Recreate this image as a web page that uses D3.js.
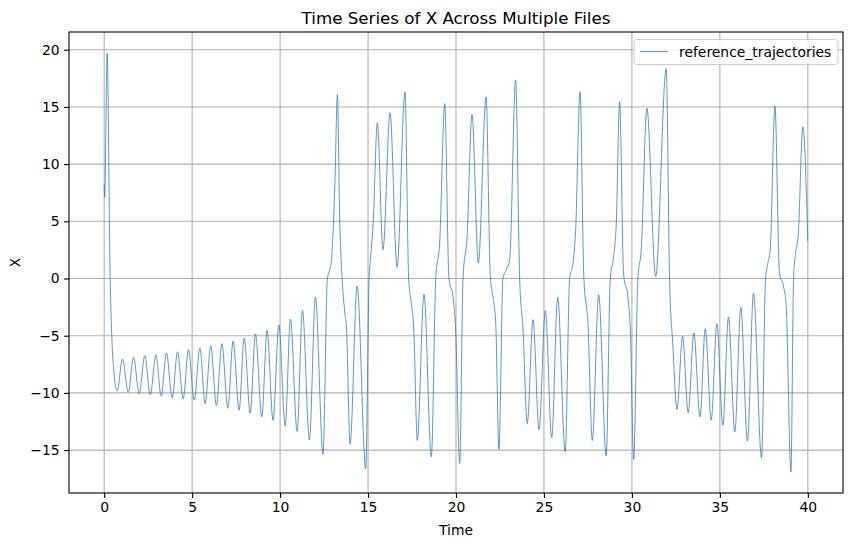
<!DOCTYPE html>
<html lang="en">
<head>
    <meta charset="UTF-8">
    <title>Time Series of X</title>
    <script src="https://cdn.jsdelivr.net/npm/d3@7/dist/d3.min.js"></script>
    <style>
        *{
            padding: 0;
            margin: 0;
        }
        body{
            background: #fff;
        }
        svg{
            font-family: "DejaVu Sans", sans-serif;
        }
    </style>
</head>
<body>
<script>
    // values (time, x) at peaks, troughs and shoulders
    let times = [
        0.00, 0.03, 0.17, 0.34, 0.42, 0.51, 0.74,
        1.04, 1.37, 1.67, 1.99, 2.31, 2.62, 2.94, 3.24, 3.54, 3.87, 4.17, 4.49,
        4.79, 5.12, 5.44, 5.74, 6.06, 6.38, 6.69, 7.03, 7.33, 7.67, 7.96, 8.30,
        8.60, 8.96, 9.26, 9.60, 9.93, 10.29, 10.59, 10.97, 11.27, 11.67, 12.01, 12.44,
        12.69, 12.82, 12.92, 13.11, 13.26, 13.39, 13.51, 13.68, 13.77, 13.98,
        14.38, 14.87, 15.06, 15.13, 15.29, 15.53, 15.85, 16.25, 16.65, 17.10,
        17.31, 17.46, 17.60, 17.80, 18.18, 18.60, 18.85, 19.07, 19.36, 19.60,
        19.83, 19.98, 20.21, 20.40, 20.63, 20.91, 21.27, 21.71, 21.95, 22.10,
        22.26, 22.44, 22.67, 22.86, 23.05, 23.39, 23.62, 23.81, 24.05, 24.38,
        24.72, 25.08, 25.44, 25.78, 26.21, 26.46, 26.65, 26.80, 27.05, 27.27,
        27.50, 27.75, 28.11, 28.54, 28.77, 28.96, 29.11, 29.30, 29.53, 29.77,
        29.91, 30.10, 30.34, 30.53, 30.85, 31.35, 31.95, 32.14, 32.33, 32.56,
        32.88, 33.20, 33.52, 33.87, 34.17, 34.51, 34.83, 35.17, 35.49, 35.85,
        36.19, 36.57, 36.91, 37.37, 37.60, 37.73, 37.86, 38.13, 38.39, 38.62,
        38.77, 39.04, 39.19, 39.30, 39.45, 39.72, 40.00
    ];
    let xValues = [
        8.2, 7.1, 19.7, 0.0, -4.5, -7.4, -9.80,
        -7.03, -9.94, -6.89, -10.06, -6.74, -10.17, -6.66, -10.29, -6.51, -10.44, -6.40, -10.52,
        -6.22, -10.64, -6.08, -10.93, -5.87, -11.10, -5.70, -11.34, -5.47, -11.51, -5.20, -11.77,
        -4.85, -12.09, -4.51, -12.38, -4.07, -12.88, -3.55, -13.37, -2.79, -14.13, -1.63, -15.35,
        0.0, 0.76, 1.6, 8.0, 16.08, 5.0, 0.47, -3.0, -4.2, -14.5,
        -0.64, -16.63, 0.0, 1.6, 4.8, 13.63, 2.5, 14.5, 0.99, 16.3,
        0.0, -2.15, -4.5, -14.16, -1.37, -15.58, 0.0, 3.1, 15.29, 0.0,
        -1.6, -4.5, -16.16, 0.0, 3.7, 14.33, 1.34, 15.87, 0.2, -1.6,
        -3.9, -14.94, 0.0, 0.76, 1.63, 17.33, 0.0, -4.5, -12.70, -3.6,
        -13.2, -2.82, -13.92, -1.66, -15.15, 0.0, 1.34, 4.2, 16.34, 0.0,
        -3.9, -14.16, -1.42, -15.52, 0.0, 1.9, 4.8, 15.44, 0.3, -1.6,
        -4.5, -15.81, 0.0, 2.5, 14.88, 0.17, 18.34, 0.0, -5.9, -11.45,
        -5.06, -11.74, -4.77, -12.09, -4.39, -12.38, -3.95, -12.85, -3.37, -13.40,
        -2.53, -14.22, -1.28, -15.67, 0.0, 1.34, 2.5, 15.06, 0.47, -0.7,
        -2.4, -16.92, 0.0, 2.2, 3.7, 13.26, 3.23
    ];
    let xTicks = [0, 5, 10, 15, 20, 25, 30, 35, 40];
    let yTicks = [-15, -10, -5, 0, 5, 10, 15, 20];
    let seriesName = "reference_trajectories";
    let chartTitle = "Time Series of X Across Multiple Files";

    let W = 853, H = 547;
    let padL = 69, padR = 843, padT = 32, padB = 493;
    let lineColor = "#1f77b4";
    let gridColor = "#b0b0b0";

    let svg = d3.select("body")
        .append("svg")
        .attr("width", W)
        .attr("height", H);

    let x = d3.scaleLinear().domain([-2, 42]).range([padL, padR]);
    let y = d3.scaleLinear().domain([-18.75, 21.55]).range([padB, padT]);

    let minus = function(d){ return String(d).replace("-", "\u2212"); };

    // grid
    svg.append("g").selectAll("line").data(xTicks).enter().append("line")
        .attr("x1", function(d){ return x(d); })
        .attr("x2", function(d){ return x(d); })
        .attr("y1", padT).attr("y2", padB)
        .attr("stroke", gridColor).attr("stroke-width", 1.1);
    svg.append("g").selectAll("line").data(yTicks).enter().append("line")
        .attr("y1", function(d){ return y(d); })
        .attr("y2", function(d){ return y(d); })
        .attr("x1", padL).attr("x2", padR)
        .attr("stroke", gridColor).attr("stroke-width", 1.1);

    // series
    let pts = d3.range(Math.min(times.length, xValues.length)).map(function(i){
        return [times[i], xValues[i]];
    });
    let line = d3.line()
        .x(function(d){ return x(d[0]); })
        .y(function(d){ return y(d[1]); })
        .curve(d3.curveMonotoneX);
    svg.append("path")
        .datum(pts)
        .attr("d", line)
        .attr("fill", "none")
        .attr("stroke", lineColor)
        .attr("stroke-width", 0.75);

    // axes
    let xAxis = svg.append("g")
        .attr("transform", "translate(0," + padB + ")")
        .call(d3.axisBottom(x).tickValues(xTicks).tickSize(4.9).tickPadding(4.5).tickFormat(minus));
    let yAxis = svg.append("g")
        .attr("transform", "translate(" + padL + ",0)")
        .call(d3.axisLeft(y).tickValues(yTicks).tickSize(4.9).tickPadding(4.5).tickFormat(minus));
    [xAxis, yAxis].forEach(function(g){
        g.select(".domain").remove();
        g.selectAll("line").attr("stroke", "#000").attr("stroke-width", 1.1);
        g.selectAll("text").attr("font-size", "13.9px").attr("fill", "#000")
            .attr("font-family", "DejaVu Sans, sans-serif");
    });

    // frame
    svg.append("rect")
        .attr("x", padL).attr("y", padT)
        .attr("width", padR - padL).attr("height", padB - padT)
        .attr("fill", "none").attr("stroke", "#000").attr("stroke-width", 1.1);

    // labels
    svg.append("text")
        .attr("x", (padL + padR) / 2).attr("y", 24)
        .attr("text-anchor", "middle").attr("font-size", "16.7px")
        .text(chartTitle);
    svg.append("text")
        .attr("x", (padL + padR) / 2).attr("y", 535)
        .attr("text-anchor", "middle").attr("font-size", "13.9px")
        .text("Time");
    svg.append("text")
        .attr("transform", "translate(20," + (padT + padB) / 2 + ") rotate(-90)")
        .attr("text-anchor", "middle").attr("font-size", "13.9px")
        .text("X");

    // legend
    let lg = svg.append("g");
    lg.append("rect")
        .attr("x", 634).attr("y", 39.5)
        .attr("width", 204).attr("height", 25)
        .attr("rx", 2.8)
        .attr("fill", "#fff").attr("fill-opacity", 0.8)
        .attr("stroke", "#cccccc").attr("stroke-width", 1);
    lg.append("line")
        .attr("x1", 640).attr("x2", 668)
        .attr("y1", 51.5).attr("y2", 51.5)
        .attr("stroke", lineColor).attr("stroke-width", 0.75);
    lg.append("text")
        .attr("x", 679).attr("y", 56.5)
        .attr("font-size", "13.9px")
        .text(seriesName);
</script>
</body>
</html>
